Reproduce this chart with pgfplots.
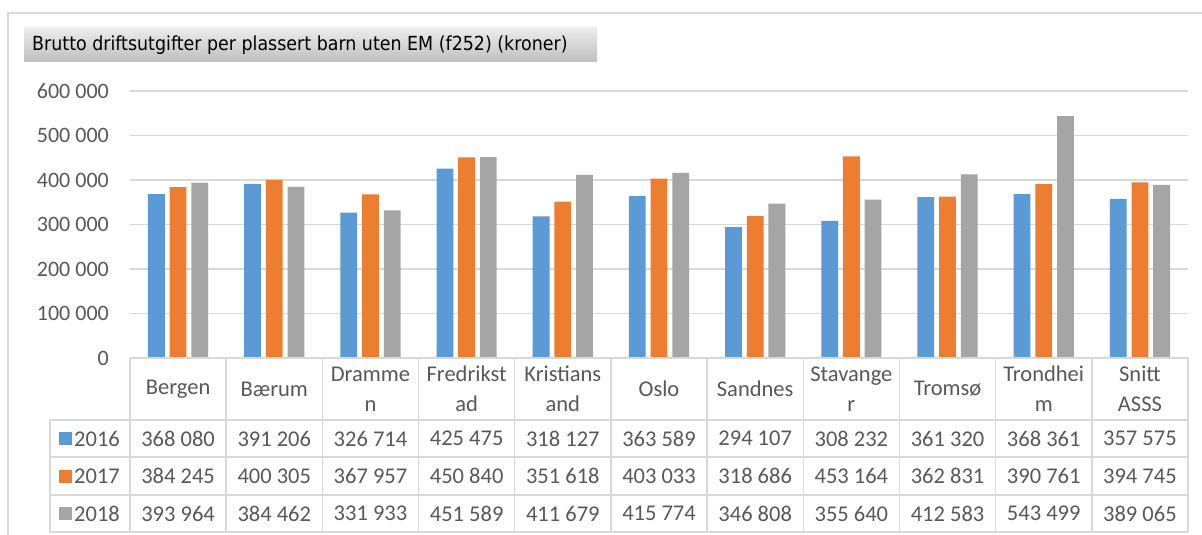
\documentclass[border=0pt]{standalone}
\usepackage{pgfplots}
\usepackage{pgfplotstable}
\pgfplotsset{compat=1.18}
\usepackage{fontspec}
\setmainfont{Carlito}
\newfontfamily\titlefont{DejaVu Sans Condensed}
\definecolor{cA}{HTML}{5B9BD5}
\definecolor{cB}{HTML}{ED7D31}
\definecolor{cC}{HTML}{A5A5A5}
\definecolor{gridc}{HTML}{D9D9D9}
\definecolor{txt}{HTML}{595959}
\pgfplotstableread{
x a b c
0 368080 384245 393964
1 391206 400305 384462
2 326714 367957 331933
3 425475 450840 451589
4 318127 351618 411679
5 363589 403033 415774
6 294107 318686 346808
7 308232 453164 355640
8 361320 362831 412583
9 368361 390761 543499
10 357575 394745 389065
}\data
\begin{document}
\begin{tikzpicture}[x=1pt,y=1pt]
\useasboundingbox (0,0) rectangle (1202,-535);
\fill[white] (0,0) rectangle (1202,-535);
\draw[gridc, line width=2pt] (8,-535) -- (8,-13) -- (1202,-13);
\shade[top color=gray!15, bottom color=gray!50] (24,-28) rectangle (597,-62);
\node[anchor=west, inner sep=0pt, font=\titlefont\fontsize{19.4}{21}\selectfont, text=black] at (32,-45) {Brutto driftsutgifter per plassert barn uten EM (f252) (kroner)};
\begin{axis}[
  at={(130pt,-358pt)}, anchor=south west,
  scale only axis, width=1058pt, height=267pt,
  xmin=-0.5, xmax=10.5, ymin=0, ymax=600000,
  ybar=4.9pt, bar width=16.8pt,
  axis line style={draw=none},
  xtick=\empty,
  ytick={0,100000,200000,300000,400000,500000,600000},
  yticklabels={0,100 000,200 000,300 000,400 000,500 000,600 000},
  scaled y ticks=false,
  ymajorgrids, grid style={gridc, line width=1.5pt},
  major tick length=0pt,
  yticklabel style={font=\fontsize{22}{26}\selectfont, text=txt, inner sep=0pt, xshift=-21pt},
  clip=false,
]
\addplot[fill=cA, draw=none] table[x=x,y=a]{\data};
\addplot[fill=cB, draw=none] table[x=x,y=b]{\data};
\addplot[fill=cC, draw=none] table[x=x,y=c]{\data};
\end{axis}
\def\cw{96.1818}
\begin{scope}[gridc, line width=1.5pt]
\foreach \k in {0,...,11} \draw ({130+\k*\cw},-358) -- ({130+\k*\cw},-532);
\draw (130,-358) -- (1188,-358);
\foreach \yy in {420,457,495,532} \draw (50,-\yy) -- (1188,-\yy);
\draw (50,-420) -- (50,-532);
\end{scope}
\begin{scope}[every node/.style={text=txt, font=\fontsize{22.5}{30}\selectfont, align=center, inner sep=0pt}]
\foreach \lab [count=\i from 0] in {Bergen,B{\ae}rum,{Dramme\\n},{Fredrikst\\ad},{Kristians\\and},Oslo,Sandnes,{Stavange\\r},Troms{\o},{Trondhei\\m},{Snitt\\ASSS}}
  \node at ({130+(\i+0.5)*\cw},-389) {\lab};
\foreach \v [count=\i from 0] in {368 080,391 206,326 714,425 475,318 127,363 589,294 107,308 232,361 320,368 361,357 575}
  \node at ({130+(\i+0.5)*\cw},-438.5) {\v};
\foreach \v [count=\i from 0] in {384 245,400 305,367 957,450 840,351 618,403 033,318 686,453 164,362 831,390 761,394 745}
  \node at ({130+(\i+0.5)*\cw},-476) {\v};
\foreach \v [count=\i from 0] in {393 964,384 462,331 933,451 589,411 679,415 774,346 808,355 640,412 583,543 499,389 065}
  \node at ({130+(\i+0.5)*\cw},-513.5) {\v};
\fill[cA] (59,-432) rectangle (72,-445);
\fill[cB] (59,-469.5) rectangle (72,-482.5);
\fill[cC] (59,-507) rectangle (72,-520);
\node[anchor=west] at (74,-438.5) {2016};
\node[anchor=west] at (74,-476) {2017};
\node[anchor=west] at (74,-513.5) {2018};
\end{scope}
\end{tikzpicture}
\end{document}
